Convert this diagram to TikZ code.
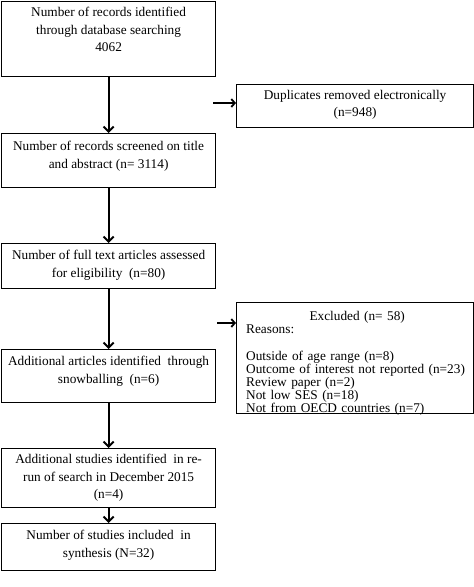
\documentclass[tikz,border=0pt]{standalone}
\usepackage{fontspec}
\setmainfont{Liberation Serif}
\usetikzlibrary{arrows.meta}
\begin{document}
\begin{tikzpicture}[x=1pt,y=-1pt,
  box/.style={draw, line width=1.2pt, anchor=north west, inner sep=0pt, minimum width=214pt},
  sidebox/.style={box, minimum width=237pt},
  txt/.style={font=\fontsize{13.3}{17.5}\selectfont, align=center, inner sep=0pt},
  flow/.style={line width=2pt, -{Straight Barb[length=5pt,width=10pt,line width=2pt]}},
  side/.style={line width=1.8pt, -{Straight Barb[length=3.5pt,width=8pt,line width=1.8pt]}}]
\useasboundingbox (0,0) rectangle (474,587);
% main column
\node[box, minimum height=75pt] (b1) at (1,1) {};
\node[txt, anchor=north] (t1) at ([yshift=-6pt]b1.north) {Number of records identified\\through database searching\\4062};
\node[box, minimum height=54pt] (b2) at (1,133) {};
\node[txt, anchor=north] (t2) at ([yshift=-8pt]b2.north) {Number of records screened on title\\and abstract (n= 3114)};
\node[box, minimum height=45pt] (b3) at (1,243) {};
\node[txt, anchor=north] (t3) at ([yshift=-7pt]b3.north) {Number of full text articles assessed\\for eligibility \ (n=80)};
\node[box, minimum height=53pt] (b4) at (1,349) {};
\node[txt, anchor=north] (t4) at ([yshift=-7pt]b4.north) {Additional articles identified \ through\\snowballing \ (n=6)};
\node[box, minimum height=59pt] (b5) at (1,448) {};
\node[txt, anchor=north] (t5) at ([yshift=-6pt]b5.north) {Additional studies identified \ in re-\\run of search in December 2015\\(n=4)};
\node[box, minimum height=47pt] (b6) at (1,523) {};
\node[txt, anchor=north] (t6) at ([yshift=-7pt]b6.north) {Number of studies included \ in\\synthesis (N=32)};
% side boxes
\node[sidebox, minimum height=43pt] (dup) at (236,84) {};
\node[txt, anchor=north] (tdup) at ([yshift=-6pt]dup.north) {Duplicates removed electronically\\(n=948)};
\node[sidebox, minimum height=111pt] (exc) at (236,302) {};
\node[txt, anchor=north west, align=left, text width=222pt, font=\fontsize{13.3}{13.2}\selectfont] (texc) at ([xshift=10pt,yshift=-9pt]exc.north west)
  {\makebox[\linewidth][c]{Excluded (n= 58)}\\
   Reasons:\\[13.2pt]
   Outside of age range (n=8)\\
   Outcome of interest not reported (n=23)\\
   Review paper (n=2)\\
   Not low SES (n=18)\\
   Not from OECD countries (n=7)};
% connectors
\draw[flow] (b1) -- (b2);
\draw[flow] (b2) -- (b3);
\draw[flow] (b3) -- (b4);
\draw[flow] (b4) -- (b5);
\draw[flow] (b5) -- (b6);
\coordinate (s1) at (213,103);
\coordinate (s2) at (217,323);
\draw[side] (s1) -- (s1 -| dup.west);
\draw[side] (s2) -- (s2 -| exc.west);
\end{tikzpicture}
\end{document}
